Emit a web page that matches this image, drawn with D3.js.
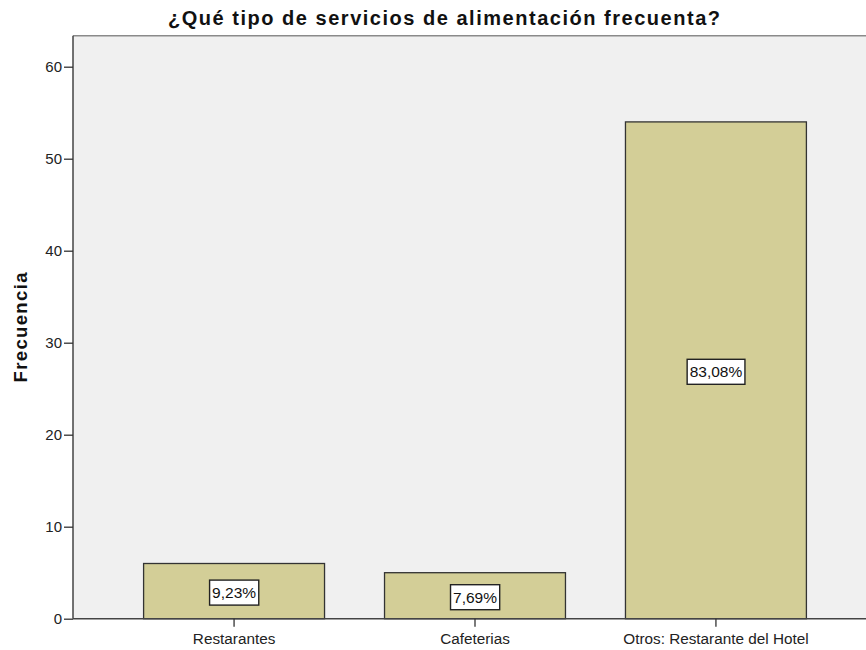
<!DOCTYPE html>
<html><head><meta charset="utf-8">
<script src="https://cdn.jsdelivr.net/npm/d3@7"></script>
<style>body{margin:0;background:#fff;}svg{display:block;}text{font-family:"Liberation Sans",Arial,sans-serif;}</style>
</head><body>
<svg id="c" width="866" height="650"></svg>
<script>
const categories = ["Restarantes", "Cafeterias", "Otros: Restarante del Hotel"];
const values = [6, 5, 54];
const percentLabels = ["9,23%", "7,69%", "83,08%"];
const yTicks = [0, 10, 20, 30, 40, 50, 60];
const title = "¿Qué tipo de servicios de alimentación frecuenta?";
const yTitle = "Frecuencia";

const svg = d3.select("#c");
const L = 73, R = 877, T = 35.7, B = 618.7;
const x = d3.scaleBand().domain(categories).range([L, R]).paddingInner(0.249).paddingOuter(0.293);
const y = d3.scaleLinear().domain([0, 63.37]).range([B, T]);

svg.append("rect").attr("x", L).attr("y", T).attr("width", R - L).attr("height", B - T).attr("fill", "#f0f0f0");
svg.append("line").attr("x1", L).attr("x2", R).attr("y1", T).attr("y2", T).attr("stroke", "#8a8a8a").attr("stroke-width", 1.5);

svg.selectAll("rect.bar").data(values).join("rect").attr("class", "bar")
  .attr("x", (d, i) => x(categories[i])).attr("width", x.bandwidth())
  .attr("y", d => y(d)).attr("height", d => B - y(d))
  .attr("fill", "#d3ce97").attr("stroke", "#333").attr("stroke-width", 1.3);

const yAxis = svg.append("g").attr("transform", `translate(${L},0)`)
  .call(d3.axisLeft(y).tickValues(yTicks).tickSize(9).tickPadding(2));
yAxis.select(".domain").attr("stroke", "#444").attr("stroke-width", 1.5).attr("d", `M0,${T}V${B}`);
yAxis.selectAll(".tick line").attr("stroke", "#333").attr("stroke-width", 1.3);
yAxis.selectAll(".tick text").attr("font-size", 15).attr("fill", "#222").attr("font-family", "Liberation Sans, Arial, sans-serif");

const xAxis = svg.append("g").attr("transform", `translate(0,${B})`)
  .call(d3.axisBottom(x).tickSize(8).tickPadding(6));
xAxis.select(".domain").attr("stroke", "#444").attr("stroke-width", 1.5).attr("d", `M${L},0H${R}`);
xAxis.selectAll(".tick line").attr("stroke", "#333").attr("stroke-width", 1.3);
xAxis.selectAll(".tick text").attr("font-size", 15.3).attr("fill", "#222").attr("font-family", "Liberation Sans, Arial, sans-serif");

const lab = svg.selectAll("g.lab").data(values).join("g").attr("class", "lab")
  .attr("transform", (d, i) => `translate(${x(categories[i]) + x.bandwidth() / 2},${(y(d) + B) / 2 + 1.5})`);
lab.append("text").attr("text-anchor", "middle").attr("dy", "0.35em").attr("font-size", 15.5).attr("fill", "#111")
  .text((d, i) => percentLabels[i]);
lab.each(function () {
  const g = d3.select(this);
  const bb = g.select("text").node().getBBox();
  g.insert("rect", "text").attr("x", bb.x - 2.5).attr("y", -12.5).attr("width", bb.width + 5).attr("height", 25)
    .attr("fill", "#fff").attr("stroke", "#222").attr("stroke-width", 1.4);
});

svg.append("text").attr("x", 444).attr("y", 25).attr("text-anchor", "middle").attr("font-size", 20).attr("font-weight", "bold").attr("fill", "#111")
  .attr("textLength", 552).attr("lengthAdjust", "spacing").text(title);
svg.append("text").attr("transform", `translate(27,327.5) rotate(-90)`).attr("text-anchor", "middle")
  .attr("font-size", 18.5).attr("font-weight", "bold").attr("fill", "#111")
  .attr("textLength", 110).attr("lengthAdjust", "spacing").text(yTitle);
</script>
</body></html>
